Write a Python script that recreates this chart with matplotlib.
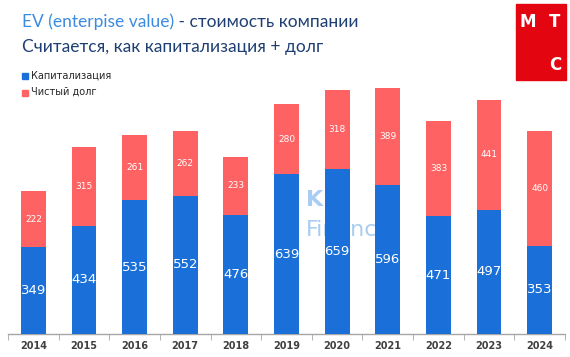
import matplotlib
matplotlib.use("Agg")
import matplotlib.pyplot as plt
from matplotlib.patches import Rectangle
import numpy as np

years = ["2014", "2015", "2016", "2017", "2018", "2019", "2020", "2021", "2022", "2023", "2024"]
market_cap = [349, 434, 535, 552, 476, 639, 659, 596, 471, 497, 353]
net_debt = [222, 315, 261, 262, 233, 280, 318, 389, 383, 441, 460]

BLUE = "#1A70D8"
RED = "#FF6262"
NAVY = "#1F3F73"
LIGHTBLUE = "#3B8BE0"

plt.rcParams['font.family'] = ['DejaVu Sans']

fig = plt.figure(figsize=(5.7, 3.57), dpi=100)
fig.patch.set_facecolor("white")
ax = fig.add_axes([8/570, 1-334/357, 557/570, (334-80)/357])

x = np.arange(len(years))
w = 0.49
ax.bar(x, market_cap, width=w, color=BLUE, zorder=3)
ax.bar(x, net_debt, width=w, bottom=market_cap, color=RED, zorder=3)

for xi, mc, nd in zip(x, market_cap, net_debt):
    ax.text(xi, mc/2, str(mc), ha="center", va="center", color="white", fontsize=9.5, zorder=4)
    ax.text(xi, mc + nd/2, str(nd), ha="center", va="center", color="white", fontsize=6.5, zorder=4)

ax.set_xlim(-0.5, len(years) - 0.5)
ax.set_ylim(0, 1016)
for s in ["top", "right", "left"]:
    ax.spines[s].set_visible(False)
ax.spines["bottom"].set_color("#A6A6A6")
ax.spines["bottom"].set_linewidth(1.0)
ax.set_yticks([])
ax.set_xticks(x)
ax.set_xticklabels(years, fontsize=7, color="#404040", fontweight="bold")
ax.tick_params(axis="x", length=0, pad=5)
ax.set_xticks(np.arange(-0.5, len(years)), minor=True)
ax.tick_params(axis="x", which="minor", length=4, color="#A6A6A6")
ax.set_facecolor("none")

# faint watermark (behind bars)
fig.text(306/570, 1-200/357, "Kit", color="#A9CDF2", fontsize=16, fontweight="bold", va="center", zorder=0)
fig.text(306/570, 1-230/357, "Finance", color="#A9CDF2", fontsize=16, va="center", zorder=0)
ax.set_zorder(1)

# Titles
TF = ["Lato", "DejaVu Sans"]
t1 = fig.text(22/570, 1-22/357, "EV (enterpise value)", color=LIGHTBLUE, fontsize=12.5, va="center", ha="left", family=TF)
fig.canvas.draw()
bb = t1.get_window_extent()
fig.text(bb.x1/570, 1-22/357, " - стоимость компании", color=NAVY, fontsize=12.5, va="center", ha="left", family=TF)
fig.text(22/570, 1-47/357, "Считается, как капитализация + долг", color=NAVY, fontsize=12.5, va="center", ha="left", family=TF)

# Legend
fig.patches.append(Rectangle((22/570, 1-79/357), 6/570, 6/357, transform=fig.transFigure, color=BLUE))
fig.text(31/570, 1-76/357, "Капитализация", fontsize=7, color="#262626", va="center", ha="left")
fig.patches.append(Rectangle((22/570, 1-96/357), 6/570, 6/357, transform=fig.transFigure, color=RED))
fig.text(31/570, 1-92/357, "Чистый долг", fontsize=7, color="#262626", va="center", ha="left")

# MTS logo
fig.patches.append(Rectangle((516/570, 1-80/357), 50/570, 76/357, transform=fig.transFigure, color="#E30611", zorder=5))
fig.text(528/570, 1-22/357, "М", fontsize=12, color="white", fontweight="bold", ha="center", va="center", zorder=6)
fig.text(555/570, 1-22/357, "Т", fontsize=12, color="white", fontweight="bold", ha="center", va="center", zorder=6)
fig.text(555/570, 1-65/357, "С", fontsize=12, color="white", fontweight="bold", ha="center", va="center", zorder=6)

fig.savefig("out.png", dpi=100, facecolor="white")
